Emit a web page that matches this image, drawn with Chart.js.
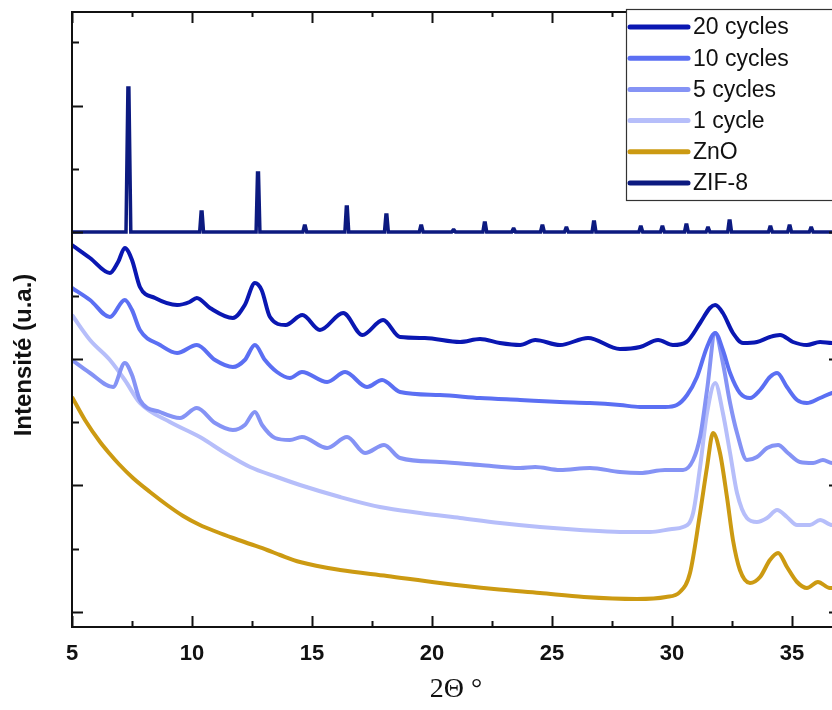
<!DOCTYPE html>
<html>
<head>
<meta charset="utf-8">
<script src="https://cdn.jsdelivr.net/npm/chart.js@4.4.1/dist/chart.umd.min.js"></script>
<style>
  html, body { margin: 0; padding: 0; background: #fff; overflow: hidden; }
  canvas { display: block; }
</style>
</head>
<body>
<canvas id="xrd" width="850" height="710"></canvas>
<script>
// 2-theta (deg) / intensity (a.u., curves offset as in the figure)
var seriesLabels = ['20 cycles', '10 cycles', '5 cycles', '1 cycle', 'ZnO', 'ZIF-8'];
var seriesColors = ['#0a17b2', '#5b6ff3', '#8593f5', '#b6befa', '#cc9a12', '#0c1a80'];

var theta20 = [5, 5.75, 6.58, 6.92, 7.2, 7.5, 7.83, 8.46, 9.38, 9.9, 10.2, 10.75, 11.7, 12.2, 12.62, 12.9, 13.25, 13.9, 14.6, 15.33, 16.3, 17.1, 17.96, 18.67, 19.7, 21.17, 22.0, 22.83, 23.67, 24.3, 25.33, 26.5, 27.83, 28.67, 29.42, 30.04, 30.6, 31.17, 31.58, 31.8, 32.12, 32.54, 32.96, 33.54, 34.08, 34.5, 35.04, 35.62, 36.17, 36.67, 37];
var int20 = [367, 354, 339, 350, 364, 352, 325, 314, 307, 310, 314, 304, 294, 307, 329, 322, 295, 287, 297, 282, 299, 277, 292, 275, 274, 270, 273, 269, 267, 272, 267, 274, 263, 265, 272, 267, 270, 289, 304, 307, 299, 279, 269, 270, 275, 277, 270, 267, 270, 269, 269];

var theta10 = [5, 5.75, 6.58, 7.2, 7.5, 7.83, 8.67, 9.38, 10.2, 10.96, 11.7, 12.2, 12.62, 13.04, 13.54, 14.08, 14.58, 15.63, 16.38, 17.29, 17.92, 18.67, 20.33, 22.0, 23.67, 25.33, 26.58, 27.83, 28.67, 29.71, 30.2, 30.63, 31.04, 31.46, 31.8, 32.12, 32.42, 32.83, 33.25, 33.67, 34.08, 34.38, 34.79, 35.21, 35.62, 36.17, 36.67, 37];
var int10 = [324, 312, 295, 312, 302, 282, 267, 259, 267, 252, 245, 252, 267, 252, 240, 234, 240, 230, 240, 225, 232, 220, 217, 214, 212, 210, 209, 207, 205, 205, 207, 217, 235, 265, 279, 262, 239, 219, 214, 222, 235, 239, 225, 212, 209, 214, 219, 220];

var theta5 = [5, 5.75, 6.71, 7.2, 7.5, 7.83, 8.67, 9.5, 10.2, 10.96, 11.7, 12.2, 12.62, 12.92, 13.46, 14.08, 14.58, 15.63, 16.46, 17.21, 18.0, 18.67, 20.33, 22.0, 23.67, 24.3, 25.33, 26.58, 27.83, 28.67, 29.71, 30.46, 30.88, 31.17, 31.46, 31.8, 32.12, 32.42, 32.71, 33.12, 33.54, 33.96, 34.42, 34.83, 35.33, 35.88, 36.29, 36.67, 37];
var int5 = [252, 239, 225, 249, 237, 212, 200, 194, 204, 189, 182, 187, 200, 187, 174, 172, 175, 164, 175, 159, 167, 154, 150, 147, 144, 145, 142, 144, 140, 139, 142, 142, 152, 175, 222, 279, 249, 209, 179, 152, 155, 164, 167, 159, 150, 149, 152, 149, 149];

var theta1 = [5, 5.75, 6.58, 7.2, 7.83, 9.08, 10.33, 11.38, 12.42, 13.54, 14.5, 16.17, 17.83, 19.5, 21.17, 22.83, 24.5, 26.17, 27.83, 29.08, 30.0, 30.46, 30.88, 31.17, 31.46, 31.8, 32.12, 32.42, 32.71, 33.12, 33.54, 33.96, 34.38, 34.79, 35.21, 35.75, 36.17, 36.67, 37];
var int1 = [297, 272, 252, 232, 209, 190, 175, 159, 145, 135, 127, 115, 105, 99, 94, 89, 85, 82, 80, 80, 83, 85, 99, 145, 199, 229, 199, 159, 119, 94, 90, 94, 102, 95, 87, 87, 92, 87, 87];

var thetaZnO = [5, 5.54, 6.17, 6.58, 6.95, 7.54, 8.25, 8.96, 9.63, 10.33, 11.04, 11.71, 12.42, 13.13, 13.67, 14.5, 16.17, 18.13, 20.33, 22.58, 24.5, 26.33, 28.54, 29.75, 30.33, 30.75, 31.17, 31.46, 31.71, 32.0, 32.29, 32.54, 32.83, 33.25, 33.67, 34.08, 34.42, 34.79, 35.21, 35.62, 36.08, 36.58, 37];
var intZnO = [215, 192, 170, 158, 148, 134, 120, 107, 96, 87, 80, 74, 68, 62, 57, 50, 42, 36, 29, 23, 19, 15, 13, 15, 20, 39, 99, 145, 179, 159, 115, 72, 42, 29, 35, 52, 59, 45, 30, 24, 30, 24, 24];

// ZIF-8 reference: sharp reflections on a flat baseline
var zifBase = 380;
var zifPeakPos = [7.35, 10.4, 12.75, 14.7, 16.45, 18.1, 19.55, 20.9, 22.2, 23.4, 24.6, 25.6, 26.75, 28.7, 29.6, 30.6, 31.5, 32.4, 34.1, 34.9, 35.8];
var zifPeakTop = [524, 400, 439, 386, 405, 397, 386, 382, 389, 383, 386, 384, 390, 385, 385, 387, 384, 391, 385, 386, 384];

var xTicks = [5, 10, 15, 20, 25, 30, 35];
var xMinor = [7.5, 12.5, 17.5, 22.5, 27.5, 32.5];
var yTicks = [0, 63.3, 126.6, 189.9, 253.2, 316.5, 379.8, 443.1, 506.4, 569.7];

function pts(xs, ys) {
    return xs.map(function (x, i) { return {x: x, y: ys[i]}; });
}

var zifPoints = [{x: 5, y: zifBase}];
zifPeakPos.forEach(function (p, i) {
    var w = i === 0 ? 0.1 : 0.08;
    zifPoints.push({x: p - w, y: zifBase});
    zifPoints.push({x: p - 0.02, y: zifPeakTop[i]});
    zifPoints.push({x: p + 0.02, y: zifPeakTop[i]});
    zifPoints.push({x: p + w, y: zifBase});
});
zifPoints.push({x: 37, y: zifBase});

var allData = [pts(theta20, int20), pts(theta10, int10), pts(theta5, int5),
               pts(theta1, int1), pts(thetaZnO, intZnO), zifPoints];

var datasets = seriesLabels.map(function (lab, i) {
    return {
        label: lab,
        data: allData[i],
        borderColor: seriesColors[i],
        backgroundColor: seriesColors[i],
        borderWidth: i === 5 ? 3.5 : 4,
        pointRadius: 0,
        fill: false,
        cubicInterpolationMode: i === 5 ? 'default' : 'monotone',
        tension: i === 5 ? 0 : 0.4
    };
});

// frame, inward ticks, y title, boxed legend
var framePlugin = {
    id: 'frame',
    afterDatasetsDraw: function (chart) {
        var ctx = chart.ctx, a = chart.chartArea;
        var xs = chart.scales.x, ys = chart.scales.y;
        ctx.save();
        ctx.strokeStyle = '#111';
        ctx.lineWidth = 2;
        ctx.strokeRect(a.left, a.top, a.right - a.left, a.bottom - a.top);
        ctx.beginPath();
        xTicks.forEach(function (v) {
            var px = Math.round(xs.getPixelForValue(v)) + 0.5;
            ctx.moveTo(px, a.bottom); ctx.lineTo(px, a.bottom - 11);
            ctx.moveTo(px, a.top); ctx.lineTo(px, a.top + 11);
        });
        xMinor.forEach(function (v) {
            var px = Math.round(xs.getPixelForValue(v)) + 0.5;
            ctx.moveTo(px, a.bottom); ctx.lineTo(px, a.bottom - 6);
            ctx.moveTo(px, a.top); ctx.lineTo(px, a.top + 5);
        });
        yTicks.forEach(function (v, i) {
            var py = Math.round(ys.getPixelForValue(v)) + 0.5;
            var len = i % 2 === 0 ? 11 : 7;
            ctx.moveTo(a.left, py); ctx.lineTo(a.left + len, py);
            ctx.moveTo(a.right, py); ctx.lineTo(a.right - len, py);
        });
        ctx.stroke();

        // y title
        ctx.fillStyle = '#111';
        ctx.font = 'bold 24px "Liberation Sans", Arial, sans-serif';
        ctx.textAlign = 'center';
        ctx.textBaseline = 'middle';
        ctx.translate(24, 355);
        ctx.rotate(-Math.PI / 2);
        ctx.fillText('Intensité (u.a.)', 0, 0);
        ctx.restore();

        // legend
        ctx.save();
        var lx = 626, ly = 9, rowH = 31.2;
        ctx.fillStyle = '#fff';
        ctx.fillRect(lx, ly, 240, 192);
        ctx.strokeStyle = '#333';
        ctx.lineWidth = 1.2;
        ctx.strokeRect(lx + 0.5, ly + 0.5, 240, 191);
        ctx.font = '23px "Liberation Sans", Arial, sans-serif';
        ctx.textAlign = 'left';
        ctx.textBaseline = 'middle';
        chart.data.datasets.forEach(function (ds, i) {
            var cy = ly + 18 + i * rowH;
            ctx.strokeStyle = ds.borderColor;
            ctx.lineWidth = 5;
            ctx.lineCap = 'round';
            ctx.beginPath();
            ctx.moveTo(lx + 4, cy); ctx.lineTo(lx + 62, cy);
            ctx.stroke();
            ctx.fillStyle = '#111';
            ctx.fillText(ds.label, lx + 67, cy + 1);
        });
        ctx.restore();
    }
};

var chart = new Chart(document.getElementById('xrd').getContext('2d'), {
    type: 'line',
    data: {datasets: datasets},
    options: {
        responsive: false,
        animation: false,
        layout: {padding: {left: 0, top: 12, right: 10, bottom: 0}},
        plugins: {legend: {display: false}, tooltip: {enabled: false}},
        scales: {
            x: {
                type: 'linear',
                min: 5,
                max: 37,
                grid: {display: false},
                border: {display: false},
                afterBuildTicks: function (s) {
                    s.ticks = xTicks.map(function (v) { return {value: v}; });
                },
                afterFit: function (s) { s.height = 83; },
                ticks: {
                    color: '#111',
                    padding: 6,
                    maxRotation: 0,
                    font: {family: '"Liberation Sans", Arial, sans-serif', size: 22, weight: 'bold'}
                },
                title: {
                    display: true,
                    text: '2\u0398 \u00b0',
                    color: '#111',
                    padding: {top: 4, bottom: 4},
                    font: {family: '"Liberation Serif", "Times New Roman", serif', size: 28}
                }
            },
            y: {
                min: -15,
                max: 600,
                grid: {display: false},
                border: {display: false},
                ticks: {display: false},
                afterFit: function (s) { s.width = 72; }
            }
        }
    },
    plugins: [framePlugin]
});
</script>
</body>
</html>
